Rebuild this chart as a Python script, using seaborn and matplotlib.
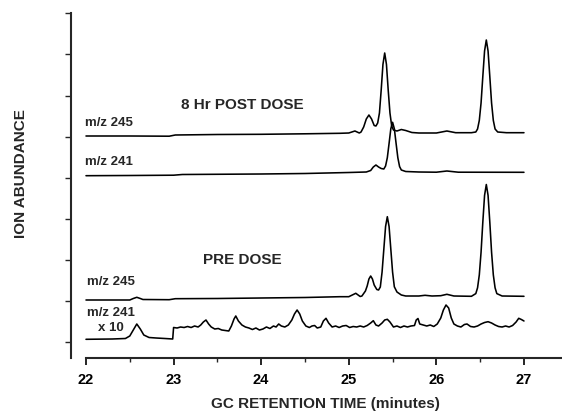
import numpy as np
import pandas as pd
import matplotlib
matplotlib.use("Agg")
import matplotlib.pyplot as plt
import seaborn as sns

# ---------------- data (retention time in minutes, abundance in arbitrary units) -------------
post245_t = [22.0, 22.5, 22.95, 23.02, 23.5, 24.0, 24.5, 24.9, 25.0, 25.07, 25.12,
             25.14, 25.17, 25.20, 25.23, 25.26, 25.29, 25.31, 25.33, 25.35, 25.37, 25.39,
             25.41, 25.43, 25.45, 25.47, 25.49, 25.51, 25.55, 25.60, 25.65, 25.72, 25.80,
             26.0, 26.12, 26.22, 26.40, 26.45, 26.47, 26.49, 26.51, 26.53, 26.55, 26.57,
             26.59, 26.61, 26.63, 26.65, 26.67, 26.70, 26.80, 27.0]
post245_v = [222, 222, 221.8, 223.0, 223.5, 223.7, 224.2, 224.7, 225, 227, 225,
             226, 231, 239, 243, 239, 232.5, 232, 235, 245, 268, 293.6,
             305, 293.6, 268, 245, 232, 228, 227, 228.5, 227.5, 225.5, 225,
             225, 227, 225.3, 225.3, 226, 229, 237.6, 255, 281.4, 307, 318,
             307, 281.4, 255, 237.6, 229, 226, 225.3, 225.3]

post241_t = [22.0, 22.5, 23.0, 23.1, 24.0, 24.5, 25.0, 25.20, 25.25, 25.28, 25.31, 25.34,
             25.37, 25.40, 25.42, 25.44, 25.46, 25.48, 25.50, 25.52, 25.54, 25.56, 25.58,
             25.60, 25.65, 25.80, 26.0, 26.12, 26.25, 27.0]
post241_v = [182.3, 182.5, 182.8, 183.5, 184, 184.5, 185.5, 186, 187.5, 191, 193, 191,
             189.5, 189, 192, 200.3, 214.6, 229.3, 235.7, 229.3, 214.6, 200.3, 191.4,
             188, 186.5, 186, 185.8, 187, 185.8, 185.7]

pre245_t = [22.0, 22.5, 22.54, 22.58, 22.62, 22.65, 22.95, 23.02, 23.5, 24.0, 24.5, 24.9,
            25.0, 25.08, 25.13, 25.15, 25.19, 25.21, 25.23, 25.25, 25.27, 25.29, 25.32,
            25.34, 25.36, 25.38, 25.40, 25.42, 25.44, 25.46, 25.48, 25.50, 25.52, 25.55,
            25.60, 25.65, 25.80, 25.87, 25.95, 26.05, 26.12, 26.20, 26.40, 26.45, 26.47,
            26.49, 26.51, 26.53, 26.55, 26.57, 26.59, 26.61, 26.63, 26.65, 26.67, 26.69,
            26.75, 27.0]
pre245_v = [58, 58, 59.5, 60.7, 59.5, 58.5, 58.3, 59.3, 59.5, 60, 60.5, 61.3,
            61.3, 64.7, 61.5, 62, 67, 72, 79, 82, 79, 73, 68.5,
            68, 71, 85.9, 108.7, 131.5, 141.3, 131.5, 108.7, 85.9, 71.2, 66,
            63, 62, 62, 62.7, 62, 62.3, 63.7, 62, 61.7, 64.4, 70.2,
            83.1, 105.8, 135.7, 162.6, 173.5, 162.6, 135.7, 105.8, 83.1, 70.2, 64.4,
            62, 61.7]

pre241_t = [22.0, 22.3, 22.45, 22.5, 22.54, 22.58, 22.62, 22.66, 22.72, 22.8, 22.9, 22.99,
            23.0, 23.04, 23.08, 23.12, 23.16, 23.20, 23.24, 23.28, 23.31, 23.34, 23.37,
            23.40, 23.43, 23.47, 23.51, 23.55, 23.59, 23.63, 23.66, 23.69, 23.71, 23.74,
            23.78, 23.82, 23.86, 23.90, 23.94, 23.98, 24.02, 24.06, 24.10, 24.14, 24.17,
            24.20, 24.23, 24.27, 24.31, 24.35, 24.38, 24.41, 24.44, 24.47, 24.51, 24.55,
            24.58, 24.61, 24.64, 24.68, 24.71, 24.74, 24.77, 24.81, 24.85, 24.89, 24.93,
            24.97, 25.01, 25.05, 25.09, 25.13, 25.17, 25.21, 25.25, 25.28, 25.31, 25.34,
            25.38, 25.41, 25.44, 25.47, 25.51, 25.55, 25.59, 25.63, 25.67, 25.71, 25.75,
            25.77, 25.79, 25.81, 25.85, 25.89, 25.93, 25.97, 26.01, 26.05, 26.08, 26.11,
            26.14, 26.17, 26.20, 26.24, 26.28, 26.32, 26.35, 26.39, 26.43, 26.47, 26.51,
            26.55, 26.59, 26.63, 26.67, 26.71, 26.75, 26.79, 26.83, 26.87, 26.91, 26.94,
            26.97, 27.0]
pre241_v = [18.7, 19, 19.5, 22, 28, 34, 29, 23, 20.5, 20, 19.5, 19,
            30.5, 30, 31, 30.5, 31.5, 30.5, 32, 31, 33, 36, 38,
            34, 31, 29, 29.5, 28, 27.5, 27, 32, 39, 42, 37,
            33, 31, 30, 28.5, 30, 28, 29, 31, 29.5, 32, 31,
            34, 32, 31, 33, 38, 44, 48, 44, 37, 32, 30.5,
            32, 32.5, 30, 31, 37, 39.7, 35, 31, 32, 30.5, 32,
            32.5, 30.5, 31.5, 31, 32, 31, 32.5, 35, 37.3, 33, 32,
            35, 38, 38.7, 36, 31, 32, 30.5, 32, 31, 32, 32.5,
            38, 39.5, 34, 33, 32, 33, 31.5, 34, 40, 48, 53,
            50, 40, 34, 32, 31, 33.5, 34, 31.5, 31, 32, 34,
            35.5, 36.3, 35, 33, 31.5, 31, 32, 31, 32.5, 36, 39.7,
            38.5, 37]

x_ticks = [22, 23, 24, 25, 26, 27]
x_minor = [22.5, 23.5, 24.5, 25.5, 26.5]

# ---------------- figure -------------
sns.set_theme(style="ticks")
plt.rcParams['font.family'] = ['Liberation Sans', 'DejaVu Sans']
plt.rcParams['font.weight'] = 'bold'

fig = plt.figure(figsize=(5.62, 4.12), dpi=100)
ax = fig.add_axes([71 / 562, 54 / 412, 491 / 562, 345 / 412])

for t, v in [(post245_t, post245_v), (post241_t, post241_v),
             (pre245_t, pre245_v), (pre241_t, pre241_v)]:
    df = pd.DataFrame({"t": t, "v": v})
    sns.lineplot(data=df, x="t", y="v", ax=ax, color="black", linewidth=1.15,
                 estimator=None, sort=False)

ax.set_xlim(21.829, 27.434)
ax.set_ylim(0, 345)
ax.set_xticks(x_ticks)
ax.set_xticklabels([str(x) for x in x_ticks])
ax.set_xticks(x_minor, minor=True)
ax.set_yticks(np.linspace(15.7, 344.7, 9))
ax.set_yticklabels([])
ax.set_xlabel("")
ax.set_ylabel("")

for s in ["top", "right"]:
    ax.spines[s].set_visible(False)
ax.spines["left"].set_linewidth(1.5)
ax.spines["bottom"].set_linewidth(1.5)
ax.spines["bottom"].set_bounds(22, 27.434)

ax.tick_params(axis="x", which="major", direction="out", length=5, width=1.2,
               labelsize=10.5, pad=6, colors="black")
ax.tick_params(axis="x", which="minor", direction="out", length=3, width=1.0)
ax.tick_params(axis="y", which="major", direction="out", length=4, width=1.0)
for lbl in ax.get_xticklabels():
    lbl.set_fontweight("bold")

fs_small = 9.5
ax.text(21.99, 235, "m/z 245", fontsize=fs_small, fontweight="bold", va="center", ha="left")
ax.text(21.99, 196.3, "m/z 241", fontsize=fs_small, fontweight="bold", va="center", ha="left")
ax.text(23.08, 253, "8 Hr POST DOSE", fontsize=11, fontweight="bold", va="center", ha="left")
ax.text(23.34, 98, "PRE DOSE", fontsize=11, fontweight="bold", va="center", ha="left")
ax.text(22.01, 76.3, "m/z 245", fontsize=fs_small, fontweight="bold", va="center", ha="left")
ax.text(22.01, 44.7, "m/z 241", fontsize=fs_small, fontweight="bold", va="center", ha="left")
ax.text(22.14, 29.7, "x 10", fontsize=fs_small, fontweight="bold", va="center", ha="left")

fig.text(325 / 562, 1 - 404 / 412, "GC RETENTION TIME (minutes)", fontsize=11,
         fontweight="bold", ha="center", va="center")
fig.text(21 / 562, 1 - 174 / 412, "ION ABUNDANCE", fontsize=11, fontweight="bold",
         ha="center", va="center", rotation=90)

fig.savefig("out.png", dpi=100, facecolor="white")
